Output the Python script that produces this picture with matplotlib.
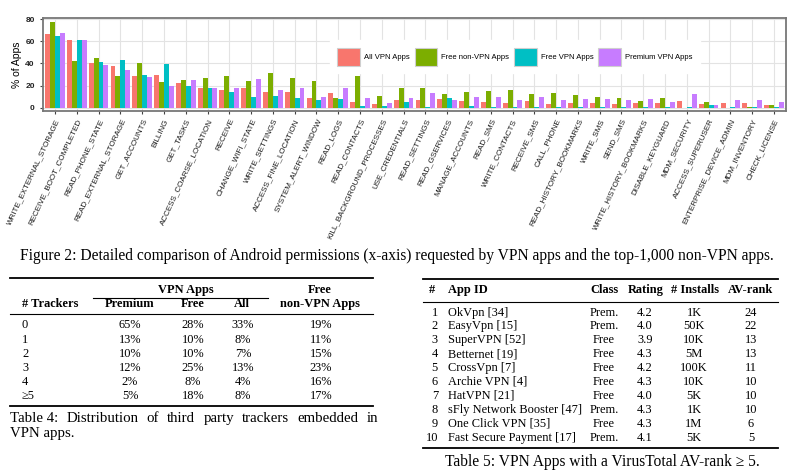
import matplotlib
matplotlib.use("Agg")
import matplotlib.pyplot as plt
from matplotlib.patches import Patch
from matplotlib.lines import Line2D
import numpy as np

# ---- figure 2 data (% of apps requesting each permission) ----
permissions = ["WRITE_EXTERNAL_STORAGE", "RECEIVE_BOOT_COMPLETED", "READ_PHONE_STATE",
               "READ_EXTERNAL_STORAGE", "GET_ACCOUNTS", "BILLING", "GET_TASKS",
               "ACCESS_COARSE_LOCATION", "RECEIVE", "CHANGE_WIFI_STATE", "WRITE_SETTINGS",
               "ACCESS_FINE_LOCATION", "SYSTEM_ALERT_WINDOW", "READ_LOGS", "READ_CONTACTS",
               "KILL_BACKGROUND_PROCESSES", "USE_CREDENTIALS", "READ_SETTINGS", "READ_GSERVICES",
               "MANAGE_ACCOUNTS", "READ_SMS", "WRITE_CONTACTS", "RECEIVE_SMS", "CALL_PHONE",
               "READ_HISTORY_BOOKMARKS", "WRITE_SMS", "SEND_SMS", "WRITE_HISTORY_BOOKMARKS",
               "DISABLE_KEYGUARD", "MDM_SECURITY", "ACCESS_SUPERUSER", "ENTERPRISE_DEVICE_ADMIN",
               "MDM_INVENTORY", "CHECK_LICENSE"]
all_vpn = [67, 61, 40, 38, 29, 30, 22, 18, 16, 18, 14, 14, 9, 13, 5.5, 3.3, 7, 7, 8, 6,
           5.5, 4.5, 6, 3.3, 4.5, 4.5, 3.5, 4.5, 4, 6, 3, 4, 4, 2.5]
free_non_vpn = [78, 42, 45, 29, 40, 23, 25, 27, 29, 24, 31, 27, 24, 8.5, 29, 10.5, 18, 17.5, 12, 14,
                15, 16, 12, 13, 11, 10, 8.5, 6, 9, 0, 5, 0, 0.5, 2.5]
free_vpn = [65, 61, 41, 43, 30, 39.5, 20, 18, 14, 10, 10.5, 9, 7, 7.5, 1.5, 1.5, 5.5, 0.3, 9, 1.5,
            0.5, 0.3, 0.3, 0.3, 0.3, 0.3, 0.3, 0.3, 1, 0.3, 2.5, 0.3, 0.3, 0.5]
premium_vpn = [68, 61, 39, 34, 28, 20, 25, 18, 18, 26, 16, 18, 10, 18, 9, 4.5, 9, 13, 7, 10,
               10, 7, 10, 7, 8, 8, 7, 8, 5, 12, 2.5, 7, 7, 5]
series_names = ["All VPN Apps", "Free non-VPN Apps", "Free VPN Apps", "Premium VPN Apps"]
series_colors = ["#F8766D", "#7CAE00", "#00BFC4", "#C77CFF"]

# ---- table 4 ----
t4_rows = ["0", "1", "2", "3", "4", "\u22655"]
t4_premium = ["65%", "13%", "10%", "12%", "2%", "5%"]
t4_free = ["28%", "10%", "10%", "25%", "8%", "18%"]
t4_all = ["33%", "8%", "7%", "13%", "4%", "8%"]
t4_nonvpn = ["19%", "11%", "15%", "23%", "16%", "17%"]

# ---- table 5 ----
t5_rank = ["1", "2", "3", "4", "5", "6", "7", "8", "9", "10"]
t5_app = ["OkVpn [34]", "EasyVpn [15]", "SuperVPN [52]", "Betternet [19]", "CrossVpn [7]",
          "Archie VPN [4]", "HatVPN [21]", "sFly Network Booster [47]", "One Click VPN [35]",
          "Fast Secure Payment [17]"]
t5_class = ["Prem.", "Prem.", "Free", "Free", "Free", "Free", "Free", "Prem.", "Free", "Prem."]
t5_rating = ["4.2", "4.0", "3.9", "4.3", "4.2", "4.3", "4.0", "4.3", "4.3", "4.1"]
t5_installs = ["1K", "50K", "10K", "5M", "100K", "10K", "5K", "1K", "1M", "5K"]
t5_avrank = ["24", "22", "13", "13", "11", "10", "10", "10", "6", "5"]

W, H = 800, 473
fig = plt.figure(figsize=(8, 4.73), dpi=100)
SANS = "Liberation Sans"
SERIF = "Liberation Serif"
TFS = 8.9      # table text size
CFS = 11.2     # caption text size


def fx(x):
    return x / W


def fy(y):
    return 1 - y / H


# ---------------- bar chart ----------------
ax = fig.add_axes([fx(43), fy(111.5), fx(786) - fx(43), fy(18) - fy(111.5)])
x = np.arange(1, len(permissions) + 1)
bw = 0.225
for k, (vals, name, col) in enumerate(zip([all_vpn, free_non_vpn, free_vpn, premium_vpn],
                                          series_names, series_colors)):
    ax.bar(x + (k - 1.5) * bw, vals, width=bw, color=col, label=name, zorder=2, linewidth=0)

ax.set_xlim(0.45, len(permissions) + 0.55)
ax.set_ylim(-3.5, 81.2)
ax.set_yticks([0, 20, 40, 60, 80])
ax.set_xticks(x)
ax.set_xticklabels(permissions, rotation=65, ha="right", va="top", rotation_mode="anchor",
                   fontsize=5.8, family=SANS, color="#1a1a1a")
ax.tick_params(axis="y", labelsize=6, length=2.5, width=0.8, color="#444444", labelcolor="#222222")
ax.tick_params(axis="x", length=2.5, width=0.8, color="#444444", pad=2)
for lbl in ax.get_yticklabels():
    lbl.set_family(SANS)
    lbl.set_fontweight("bold")
ax.set_ylabel("% of Apps", fontsize=7.5, family=SANS, labelpad=2)
ax.grid(True, color="#e3e3e3", linewidth=0.8, zorder=0)
ax.set_axisbelow(True)
for sp in ax.spines.values():
    sp.set_color("#777777")
    sp.set_linewidth(1.3)

handles = [Patch(facecolor=c, edgecolor="#cfcfcf", linewidth=0.8) for c in series_colors]
leg = ax.legend(handles, series_names, loc="center", bbox_to_anchor=(0.635, 0.585), ncol=4,
                frameon=True, fancybox=False, framealpha=1, edgecolor="white",
                prop={"family": SANS, "size": 5.5}, handlelength=3.0, handleheight=3.2,
                handletextpad=0.5, columnspacing=0.6, borderpad=1.0)
leg.set_zorder(5)

fig.text(fx(397), fy(256), "Figure 2: Detailed comparison of Android permissions (x-axis) requested "
         "by VPN apps and the top-1,000 non-VPN apps.", ha="center", va="center",
         family=SERIF, fontsize=CFS)


# ---------------- helpers for the tables ----------------
def hline(x0, x1, y, lw):
    fig.add_artist(Line2D([fx(x0), fx(x1)], [fy(y), fy(y)], color="black", linewidth=lw,
                          transform=fig.transFigure))


def txt(x, y, s, ha="center", bold=False, size=TFS):
    fig.text(fx(x), fy(y), s, ha=ha, va="center", family=SERIF, fontsize=size,
             fontweight="bold" if bold else "normal")


# ---------------- table 4 ----------------
hline(10, 373, 278, 1.3)
hline(93, 268, 298, 0.8)
hline(10, 373, 314, 0.8)
hline(10, 373, 406, 1.3)
txt(186, 290, "VPN Apps", bold=True)
txt(320, 290, "Free", bold=True)
txt(22, 304, "# Trackers", ha="left", bold=True)
txt(130, 304, "Premium", bold=True)
txt(193, 304, "Free", bold=True)
txt(242, 304, "All", bold=True)
txt(320, 304, "non-VPN Apps", bold=True)
row_y4 = [325, 339.5, 353.5, 367.5, 381.5, 395.5]
for i, yy in enumerate(row_y4):
    txt(22, yy, t4_rows[i], ha="left")
    txt(130, yy, t4_premium[i])
    txt(193, yy, t4_free[i])
    txt(243, yy, t4_all[i])
    txt(321, yy, t4_nonvpn[i])

# justified caption line
cap4_fs = 10.7
cap_words = ["Table 4:", "Distribution", "of", "third", "party", "trackers", "embedded", "in"]
cap_objs = [fig.text(0, fy(418), w, ha="left", va="center", family=SERIF, fontsize=cap4_fs)
            for w in cap_words]
fig.canvas.draw()
rend = fig.canvas.get_renderer()
widths = [t.get_window_extent(rend).width for t in cap_objs]
gap = ((378 - 10) - sum(widths)) / (len(cap_words) - 1)
xpos = 10
for t, wd in zip(cap_objs, widths):
    t.set_x(fx(xpos))
    xpos += wd + gap
fig.text(fx(10), fy(434), "VPN apps.", ha="left", va="center", family=SERIF, fontsize=cap4_fs)

# ---------------- table 5 ----------------
hline(423, 778, 279, 1.3)
hline(423, 778, 302, 0.8)
hline(423, 778, 448, 1.3)
txt(432, 290, "#", bold=True)
txt(448, 290, "App ID", ha="left", bold=True)
txt(604, 290, "Class", bold=True)
txt(646, 290, "Rating", bold=True)
txt(695, 290, "# Installs", bold=True)
txt(751, 290, "AV-rank", bold=True)
row_y5 = [312.5, 326, 340, 354, 368, 381.5, 395.5, 409.5, 423.5, 437.5]
for i, yy in enumerate(row_y5):
    txt(438, yy, t5_rank[i], ha="right")
    txt(448, yy, t5_app[i], ha="left")
    txt(604, yy, t5_class[i])
    txt(645, yy, t5_rating[i])
    txt(694, yy, t5_installs[i])
    txt(751, yy, t5_avrank[i])
fig.text(fx(602), fy(462), "Table 5: VPN Apps with a VirusTotal AV-rank \u2265 5.", ha="center",
         va="center", family=SERIF, fontsize=CFS)

fig.savefig("out.png", dpi=100)
